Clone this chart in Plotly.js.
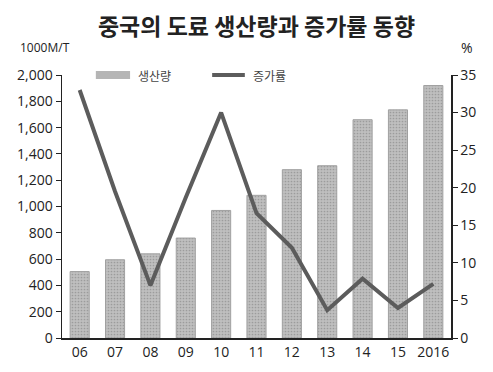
<!DOCTYPE html>
<html>
<head>
<meta charset="utf-8">
<script src="https://cdn.plot.ly/plotly-3.0.1.min.js"></script>
<style>html,body{margin:0;padding:0;background:#fff;}#chart{width:493px;height:372px;}</style>
</head>
<body>
<div id="chart"></div>
<script>
const years = ["06","07","08","09","10","11","12","13","14","15","2016"];
const production = [505, 595, 640, 760, 970, 1085, 1280, 1310, 1660, 1735, 1920];
const growthRate = [33.0, 19.5, 7.0, 18.7, 30.0, 16.6, 12.0, 3.7, 7.9, 4.0, 7.2];
const leftTicks = [0,200,400,600,800,1000,1200,1400,1600,1800,2000];
const leftTickText = ["0","200","400","600","800","1,000","1,200","1,400","1,600","1,800","2,000"];
const rightTicks = [0,5,10,15,20,25,30,35];
const seriesNames = ['생산량', '증가률'];

const FONT = "'Open Sans', 'Noto Sans CJK KR', sans-serif";
const KFONT = "'Noto Sans CJK KR', sans-serif";
const BAR_COLOR = '#b5b5b5';
const LINE_COLOR = '#5c5c5c';

const traces = [
  {
    type: 'bar', x: years, y: production, name: seriesNames[0],
    marker: {color: BAR_COLOR, line: {color: '#a0a0a0', width: 1},
             pattern: {shape: '.', fgcolor: '#9c9c9c', bgcolor: '#bfbfbf', size: 3, solidity: 0.25}},
    width: 0.54, yaxis: 'y'
  },
  {
    type: 'scatter', mode: 'lines', x: years, y: growthRate, name: seriesNames[1],
    line: {color: LINE_COLOR, width: 4}, yaxis: 'y2'
  }
];

const layout = {
  width: 493, height: 372,
  margin: {l: 62, r: 42, t: 75, b: 34},
  paper_bgcolor: '#ffffff', plot_bgcolor: '#ffffff',
  font: {family: FONT, size: 14, color: '#222'},
  showlegend: false,
  xaxis: {type: 'category', range: [-0.5, 10.5], showline: true, linecolor: '#222', linewidth: 2,
          ticks: '', showgrid: false, zeroline: false, tickfont: {size: 14, color: '#222'}},
  yaxis: {range: [0, 2000], tickvals: leftTicks, ticktext: leftTickText, showline: true,
          linecolor: '#222', linewidth: 1.5, ticks: 'outside', ticklen: 5, tickcolor: '#222',
          showgrid: false, zeroline: false, tickfont: {size: 14, color: '#222'}},
  yaxis2: {range: [0, 35], tickvals: rightTicks, overlaying: 'y', side: 'right', showline: true,
           linecolor: '#222', linewidth: 1.5, ticks: 'outside', ticklen: 5, tickcolor: '#222',
           showgrid: false, zeroline: false, tickfont: {size: 14, color: '#222'}},
  title: {text: '<b>중국의 도료 생산량과 증가률 동향</b>', x: 0.5, xref: 'paper', xanchor: 'center',
          y: 0.928, yref: 'container', yanchor: 'middle',
          font: {family: KFONT, size: 23, color: '#222'}},
  shapes: [
    {type: 'rect', xref: 'paper', yref: 'paper', x0: 0.087, x1: 0.175, y0: 0.985, y1: 1.015,
     fillcolor: BAR_COLOR, line: {width: 0}},
    {type: 'line', xref: 'paper', yref: 'paper', x0: 0.386, x1: 0.470, y0: 1.0, y1: 1.0,
     line: {color: LINE_COLOR, width: 4}}
  ],
  annotations: [
    {text: '1000M/T', xref: 'paper', yref: 'paper', x: -0.113, y: 1.105, xanchor: 'left', yanchor: 'middle',
     showarrow: false, font: {size: 12, color: '#222'}},
    {text: '%', xref: 'paper', yref: 'paper', x: 1.04, y: 1.105, xanchor: 'center', yanchor: 'middle',
     showarrow: false, font: {size: 14, color: '#222'}},
    {text: seriesNames[0], xref: 'paper', yref: 'paper', x: 0.19, y: 1.0, xanchor: 'left', yanchor: 'middle',
     showarrow: false, font: {family: KFONT, size: 12, color: '#444'}},
    {text: seriesNames[1], xref: 'paper', yref: 'paper', x: 0.485, y: 1.0, xanchor: 'left', yanchor: 'middle',
     showarrow: false, font: {family: KFONT, size: 12, color: '#444'}}
  ]
};

Plotly.newPlot('chart', traces, layout, {displayModeBar: false, staticPlot: true});
</script>
</body>
</html>
